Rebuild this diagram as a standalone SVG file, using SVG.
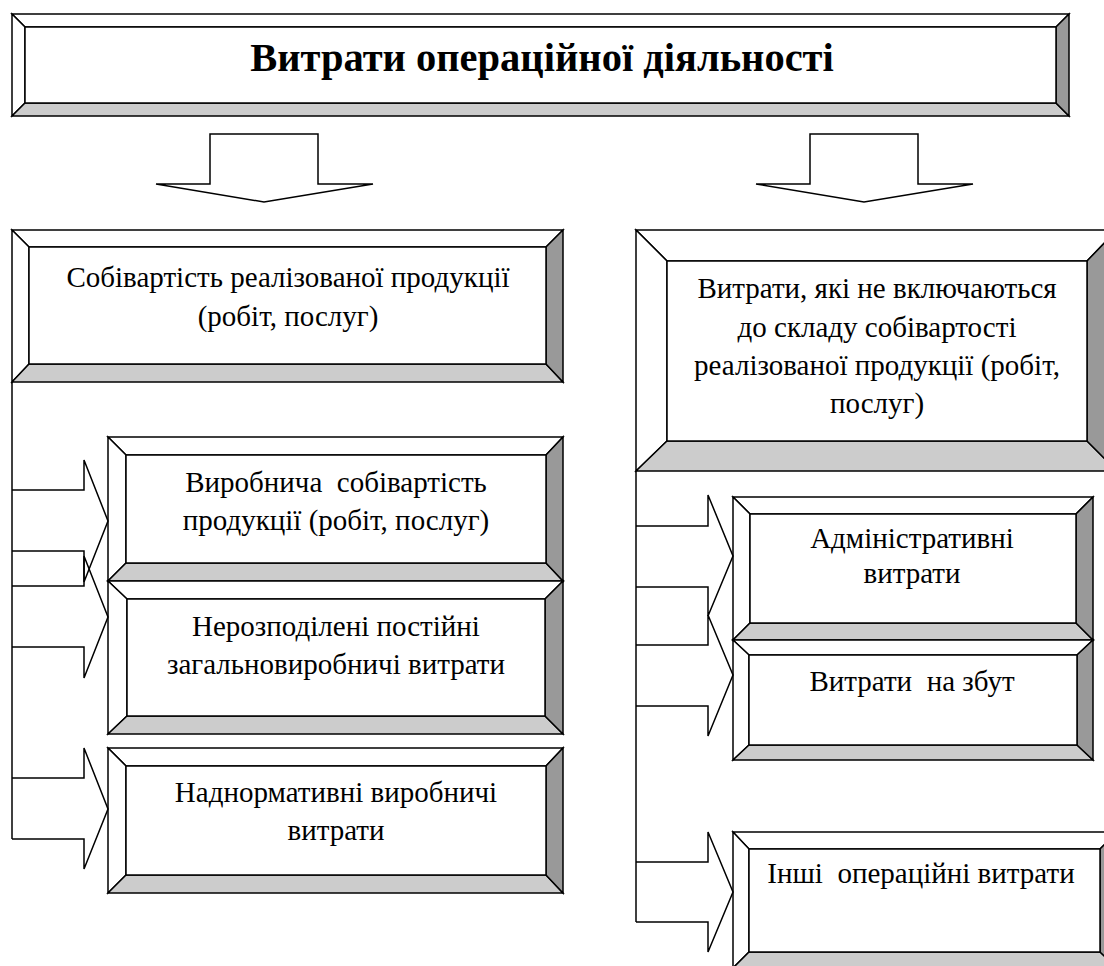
<svg xmlns="http://www.w3.org/2000/svg" width="1104" height="966" viewBox="0 0 1104 966">
<style>
.s{stroke:#000;stroke-width:1.5;stroke-linejoin:miter}
.w{fill:#fff}
.lg{fill:#cccccc}
.dg{fill:#999999}
.ln{fill:none;stroke:#000;stroke-width:1.5}
text{font-family:"Liberation Serif","Times New Roman",Tinos,serif;fill:#000;text-anchor:middle}
.t{font-size:29px;font-weight:normal}
.h{font-size:40.5px;font-weight:bold}
</style>
<rect width="1104" height="966" fill="#fff"/>

<g id="title">
<polygon class="s w" points="12,14 1069,14 1056,27 25,27"/>
<polygon class="s w" points="12,14 25,27 25,103 12,116"/>
<polygon class="s lg" points="12,116 25,103 1056,103 1069,116"/>
<polygon class="s dg" points="1069,14 1069,116 1056,103 1056,27"/>
<rect class="s w" x="25" y="27" width="1031" height="76"/>
<text class="h" x="542" y="71">Витрати операційної діяльності</text>
</g>

<g id="cost-sold">
<polygon class="s w" points="12,230 563,230 546,247 29,247"/>
<polygon class="s w" points="12,230 29,247 29,364 12,382"/>
<polygon class="s lg" points="12,382 29,364 546,364 563,382"/>
<polygon class="s dg" points="563,230 563,382 546,364 546,247"/>
<rect class="s w" x="29" y="247" width="517" height="117"/>
<text class="t" x="288" y="287">Собівартість реалізованої продукції</text>
<text class="t" x="288" y="326">(робіт, послуг)</text>
</g>

<g id="production-cost">
<polygon class="s w" points="108,437 563,437 546,455 126,455"/>
<polygon class="s w" points="108,437 126,455 126,563 108,581"/>
<polygon class="s lg" points="108,581 126,563 546,563 563,581"/>
<polygon class="s dg" points="563,437 563,581 546,563 546,455"/>
<rect class="s w" x="126" y="455" width="420" height="108"/>
<text class="t" x="336" y="492" xml:space="preserve">Виробнича  собівартість</text>
<text class="t" x="336" y="530">продукції (робіт, послуг)</text>
</g>

<g id="unallocated">
<polygon class="s w" points="108,581 563,581 545,599 127,599"/>
<polygon class="s w" points="108,581 127,599 127,716 108,734"/>
<polygon class="s lg" points="108,734 127,716 545,716 563,734"/>
<polygon class="s dg" points="563,581 563,734 545,716 545,599"/>
<rect class="s w" x="127" y="599" width="418" height="117"/>
<text class="t" x="336" y="636">Нерозподілені постійні</text>
<text class="t" x="336" y="674">загальновиробничі витрати</text>
</g>

<g id="excess">
<polygon class="s w" points="108,748 563,748 546,766 126,766"/>
<polygon class="s w" points="108,748 126,766 126,875 108,893"/>
<polygon class="s lg" points="108,893 126,875 546,875 563,893"/>
<polygon class="s dg" points="563,748 563,893 546,875 546,766"/>
<rect class="s w" x="126" y="766" width="420" height="109"/>
<text class="t" x="336" y="802">Наднормативні виробничі</text>
<text class="t" x="336" y="840">витрати</text>
</g>

<g id="not-included">
<polygon class="s w" points="636,230 1117,230 1087,261 667,261"/>
<polygon class="s w" points="636,230 667,261 667,441 636,471"/>
<polygon class="s lg" points="636,471 667,441 1087,441 1117,471"/>
<polygon class="s dg" points="1117,230 1117,471 1087,441 1087,261"/>
<rect class="s w" x="667" y="261" width="420" height="180"/>
<text class="t" x="877" y="298">Витрати, які не включаються</text>
<text class="t" x="877" y="337">до складу собівартості</text>
<text class="t" x="877" y="375">реалізованої продукції (робіт,</text>
<text class="t" x="877" y="413">послуг)</text>
</g>

<g id="admin">
<polygon class="s w" points="733,497 1093,497 1076,514 750,514"/>
<polygon class="s w" points="733,497 750,514 750,623 733,640"/>
<polygon class="s lg" points="733,640 750,623 1076,623 1093,640"/>
<polygon class="s dg" points="1093,497 1093,640 1076,623 1076,514"/>
<rect class="s w" x="750" y="514" width="326" height="109"/>
<text class="t" x="912" y="548">Адміністративні</text>
<text class="t" x="912" y="583">витрати</text>
</g>

<g id="sales">
<polygon class="s w" points="733,640 1093,640 1077,655 749,655"/>
<polygon class="s w" points="733,640 749,655 749,745 733,760"/>
<polygon class="s lg" points="733,760 749,745 1077,745 1093,760"/>
<polygon class="s dg" points="1093,640 1093,760 1077,745 1077,655"/>
<rect class="s w" x="749" y="655" width="328" height="90"/>
<text class="t" x="912" y="691" xml:space="preserve">Витрати  на збут</text>
</g>

<g id="other">
<polygon class="s w" points="733,832 1117,832 1100,849 749,849"/>
<polygon class="s w" points="733,832 749,849 749,952 733,968"/>
<polygon class="s lg" points="733,968 749,952 1100,952 1117,968"/>
<polygon class="s dg" points="1117,832 1117,968 1100,952 1100,849"/>
<rect class="s w" x="749" y="849" width="351" height="103"/>
<text class="t" x="921" y="883" xml:space="preserve">Інші  операційні витрати</text>
</g>

<g id="connectors">
<path class="s w" d="M210,134 H318 V184 H373 L264,202 L156,184 H210 Z"/>
<path class="s w" d="M810,134 H918 V184 H973 L864,202 L756,184 H810 Z"/>
<path class="ln" d="M12,382 V839"/>
<path class="ln" d="M12,490 H84 V460 L108,521 L84,582 V551 H12"/>
<path class="ln" d="M12,586 H84 V556 L108,617 L84,678 V647 H12"/>
<path class="ln" d="M12,778 H84 V748 L108,809 L84,869 V839 H12"/>
<path class="ln" d="M636,471 V922"/>
<path class="ln" d="M636,526 H708 V495 L733,556 L708,616 V587 H636"/>
<path class="ln" d="M636,645 H708 V615 L733,675 L708,736 V706 H636"/>
<path class="ln" d="M636,862 H708 V832 L733,892 L708,952 V922 H636"/>
</g>
</svg>
